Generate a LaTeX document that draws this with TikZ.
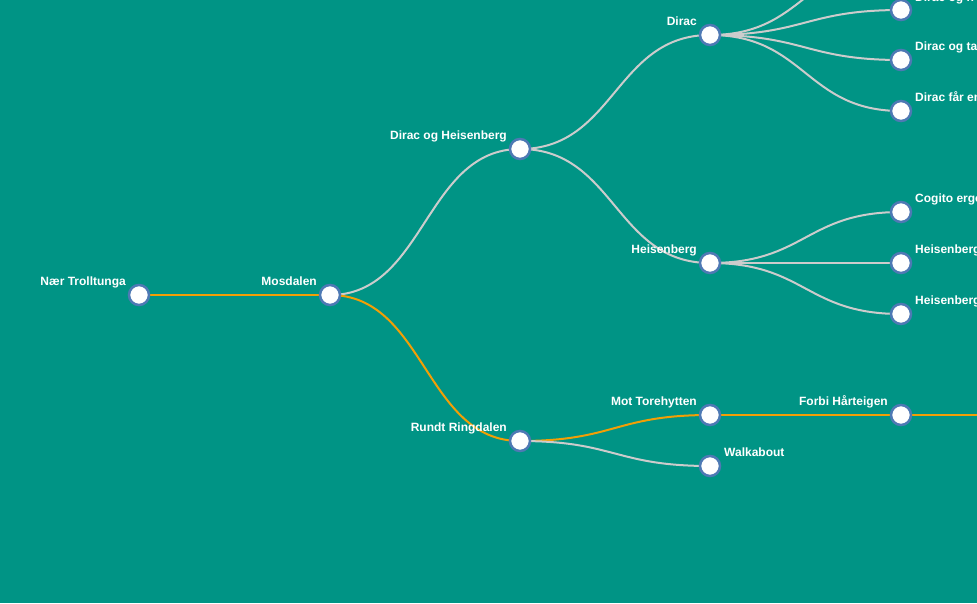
\documentclass[tikz,border=0pt]{standalone}
\usepackage{fontspec}
\setmainfont{Liberation Sans}
\usetikzlibrary{calc}
\definecolor{bgteal}{RGB}{0,148,133}
\definecolor{ringblue}{RGB}{78,121,180}
\definecolor{linkgrey}{RGB}{204,204,204}
\definecolor{linkorange}{RGB}{242,159,5}
\pgfdeclarelayer{back}
\pgfdeclarelayer{links}
\pgfsetlayers{back,links,main}
\tikzset{
  tnode/.style={circle, draw=ringblue, fill=white, line width=2.5pt, minimum size=20pt, inner sep=0pt},
  lbl/.style={text=white, inner sep=0pt, font=\fontsize{12}{14}\bfseries\selectfont},
  lblleft/.style={lbl, anchor=base east},
  lblright/.style={lbl, anchor=base west},
  hlink/.style={line width=2pt, to path={let \p1=(\tikztostart), \p2=(\tikztotarget) in
      .. controls ({(\x1+\x2)/2},\y1) and ({(\x1+\x2)/2},\y2) .. (\tikztotarget)}},
  glink/.style={hlink, draw=linkgrey},
  olink/.style={hlink, draw=linkorange}
}
\begin{document}
\begin{tikzpicture}[x=1pt,y=-1pt]
\useasboundingbox (0,0) rectangle (977,603);
\clip (0,0) rectangle (977,603);
\begin{pgfonlayer}{back}
\fill[bgteal] (0,0) rectangle (977,603);
\end{pgfonlayer}

% nodes
\node[tnode] (n1) at (139,295) {};
\node[tnode] (n2) at (330,295) {};
\node[tnode] (n3) at (520,149) {};
\node[tnode] (n4) at (520,441) {};
\node[tnode] (n5) at (710,35) {};
\node[tnode] (n6) at (710,263) {};
\node[tnode] (n7) at (710,415) {};
\node[tnode] (n8) at (710,466) {};
\node[tnode] (n9) at (901,-40) {};
\node[tnode] (n10) at (901,10) {};
\node[tnode] (n11) at (901,60) {};
\node[tnode] (n12) at (901,111) {};
\node[tnode] (n13) at (901,212) {};
\node[tnode] (n14) at (901,263) {};
\node[tnode] (n15) at (901,314) {};
\node[tnode] (n16) at (901,415) {};
\coordinate (n17) at (1091,415);

% labels
\node[lblleft] (t1) at ($(n1)+(-13,-10)$) {Nær Trolltunga};
\node[lblleft] (t2) at ($(n2)+(-13,-10)$) {Mosdalen};
\node[lblleft] (t3) at ($(n3)+(-13,-10)$) {Dirac og Heisenberg};
\node[lblleft] (t4) at ($(n4)+(-13,-10)$) {Rundt Ringdalen};
\node[lblleft] (t5) at ($(n5)+(-13,-10)$) {Dirac};
\node[lblleft] (t6) at ($(n6)+(-13,-10)$) {Heisenberg};
\node[lblleft] (t7) at ($(n7)+(-13,-10)$) {Mot Torehytten};
\node[lblright] (t8) at ($(n8)+(14,-10)$) {Walkabout};
\node[lblright] (t10) at ($(n10)+(14,-9)$) {Dirac og h};
\node[lblright] (t11) at ($(n11)+(14,-10)$) {Dirac og tal};
\node[lblright] (t12) at ($(n12)+(14,-10)$) {Dirac får en};
\node[lblright] (t13) at ($(n13)+(14,-10)$) {Cogito ergo};
\node[lblright] (t14) at ($(n14)+(14,-10)$) {Heisenberg};
\node[lblright] (t15) at ($(n15)+(14,-10)$) {Heisenberg};
\node[lblleft] (t16) at ($(n16)+(-13,-10)$) {Forbi Hårteigen};

% links
\begin{pgfonlayer}{links}
\draw[olink] (n1.center) to (n2.center);
\draw[glink] (n2.center) to (n3.center);
\draw[olink] (n2.center) to (n4.center);
\draw[glink] (n3.center) to (n5.center);
\draw[glink] (n3.center) to (n6.center);
\draw[olink] (n4.center) to (n7.center);
\draw[glink] (n4.center) to (n8.center);
\draw[glink] (n5.center) to (n9.center);
\draw[glink] (n5.center) to (n10.center);
\draw[glink] (n5.center) to (n11.center);
\draw[glink] (n5.center) to (n12.center);
\draw[glink] (n6.center) to (n13.center);
\draw[glink] (n6.center) to (n14.center);
\draw[glink] (n6.center) to (n15.center);
\draw[olink] (n7.center) to (n16.center);
\draw[olink] (n16.center) to (n17);
\end{pgfonlayer}
\end{tikzpicture}
\end{document}
